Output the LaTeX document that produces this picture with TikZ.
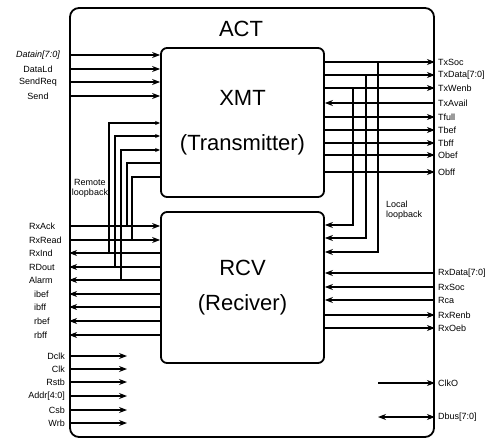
\documentclass[tikz,border=0pt]{standalone}
\usepackage{fontspec}
\setmainfont{Liberation Sans}
\usetikzlibrary{arrows.meta}

\begin{document}
\begin{tikzpicture}[x=1pt, y=-1pt, font=\fontsize{9}{10}\selectfont]
\tikzstyle{block} = [rectangle, draw=black, line width=1.8pt, rounded corners=6pt, inner sep=0pt]
\tikzstyle{arrow} = [line width=1.1pt, -{Stealth[length=8pt,width=6pt]}]
\tikzstyle{tip} = [line width=1.1pt, -{Stealth[length=5pt,width=4pt]}]
\tikzstyle{wire} = [line width=1.1pt]
\tikzstyle{sig} = [inner sep=0pt]
\tikzstyle{big} = [font=\fontsize{22}{26}\selectfont, align=center]

\useasboundingbox (0,0) rectangle (493,439);

% boxes
\node (act) [block, rounded corners=9pt, minimum width=364pt, minimum height=429pt] at (252,222.5) {};
\node (title) [big] at (241,29) {ACT};
\node (xmt) [block, big, minimum width=163pt, minimum height=149pt] at (242.5,122.5) {XMT\\[19pt](Transmitter)};
\node (rcv) [block, big, minimum width=163pt, minimum height=151pt] at (242.5,287.5) {RCV\\[9pt](Reciver)};

% XMT left inputs
\foreach \name/\txt/\y in {datain/{\itshape Datain[7:0]}/55, datald/DataLd/69, sendreq/SendReq/82, send/Send/96} {
  \node (\name) [sig] at (38,\y) {\txt};
  \draw [arrow] (act.west |- \name) -- (xmt.west |- \name);
}

% RCV left side
\foreach \name/\txt/\y in {rxack/RxAck/226, rxread/RxRead/240} {
  \node (\name) [sig, anchor=west] at (29,\y) {\txt};
  \draw [arrow] (act.west |- \name) -- (rcv.west |- \name);
}
\foreach \name/\txt/\x/\y in {rxind/RxInd/29/253, rdout/RDout/29/267, alarm/Alarm/29/280,
    ibef/ibef/34/294, ibff/ibff/34/307, rbef/rbef/34/321, rbff/rbff/34/335} {
  \node (\name) [sig, anchor=west] at (\x,\y) {\txt};
  \draw [arrow] (rcv.west |- \name) -- (act.west |- \name);
}

% remote loopback
\coordinate (rl1) at (109,123);
\coordinate (rl2) at (115,136);
\coordinate (rl3) at (121,150);
\coordinate (rl4) at (127,163);
\coordinate (rl5) at (132,177);
\draw [tip] (rxind -| rl1) -- (rl1) -- (xmt.west |- rl1);
\draw [tip] (rdout -| rl2) -- (rl2) -- (xmt.west |- rl2);
\draw [tip] (alarm -| rl3) -- (rl3) -- (xmt.west |- rl3);
\draw [wire] (xmt.west |- rl4) -- (rl4) -- (rl4 |- rxack);
\draw [wire] (xmt.west |- rl5) -- (rl5) -- (rl5 |- rxread);
\node (remote) [sig, align=center] at (90,188) {Remote\\loopback};

% XMT right side
\foreach \name/\txt/\y in {txsoc/TxSoc/62, txdata/TxData[7:0]/75, txwenb/TxWenb/88,
    tfull/Tfull/117, tbef/Tbef/130, tbff/Tbff/143, obef/Obef/155, obff/Obff/172} {
  \node (\name) [sig, anchor=west] at (438,\y) {\txt};
  \draw [arrow] (xmt.east |- \name) -- (act.east |- \name);
}
\node (txavail) [sig, anchor=west] at (438,103) {TxAvail};
\draw [arrow] (act.east |- txavail) -- (xmt.east |- txavail);

% local loopback
\coordinate (ll1) at (378,252);
\coordinate (ll2) at (366,238);
\coordinate (ll3) at (353,225);
\draw [arrow] (ll1 |- txsoc) -- (ll1) -- (rcv.east |- ll1);
\draw [arrow] (ll2 |- txdata) -- (ll2) -- (rcv.east |- ll2);
\draw [arrow] (ll3 |- txwenb) -- (ll3) -- (rcv.east |- ll3);
\node (local) [sig, anchor=west, align=left] at (386,210) {Local\\loopback};

% RCV right side
\foreach \name/\txt/\y in {rxdata/RxData[7:0]/273, rxsoc/RxSoc/287, rca/Rca/300} {
  \node (\name) [sig, anchor=west] at (438,\y) {\txt};
  \draw [arrow] (act.east |- \name) -- (rcv.east |- \name);
}
\foreach \name/\txt/\y in {rxrenb/RxRenb/315, rxoeb/RxOeb/328} {
  \node (\name) [sig, anchor=west] at (438,\y) {\txt};
  \draw [arrow] (rcv.east |- \name) -- (act.east |- \name);
}

% clock and bus outputs
\node (clko) [sig, anchor=west] at (438,383) {ClkO};
\coordinate (clkofrom) at (378,383);
\draw [arrow] (clkofrom) -- (act.east |- clko);
\node (dbus) [sig, anchor=west] at (438,417) {Dbus[7:0]};
\coordinate (dbusfrom) at (378,417);
\draw [arrow, {Stealth[length=8pt,width=6pt]}-{Stealth[length=8pt,width=6pt]}] (dbusfrom) -- (act.east |- dbus);

% control inputs
\foreach \name/\txt/\y in {dclk/Dclk/356, clk/Clk/369, rstb/Rstb/382, addr/Addr[4:0]/396, csb/Csb/410, wrb/Wrb/423} {
  \node (\name) [sig, anchor=east] at (65,\y) {\txt};
  \coordinate (\name to) at (127,\y);
  \draw [arrow] (act.west |- \name) -- (\name to);
}
\end{tikzpicture}
\end{document}
